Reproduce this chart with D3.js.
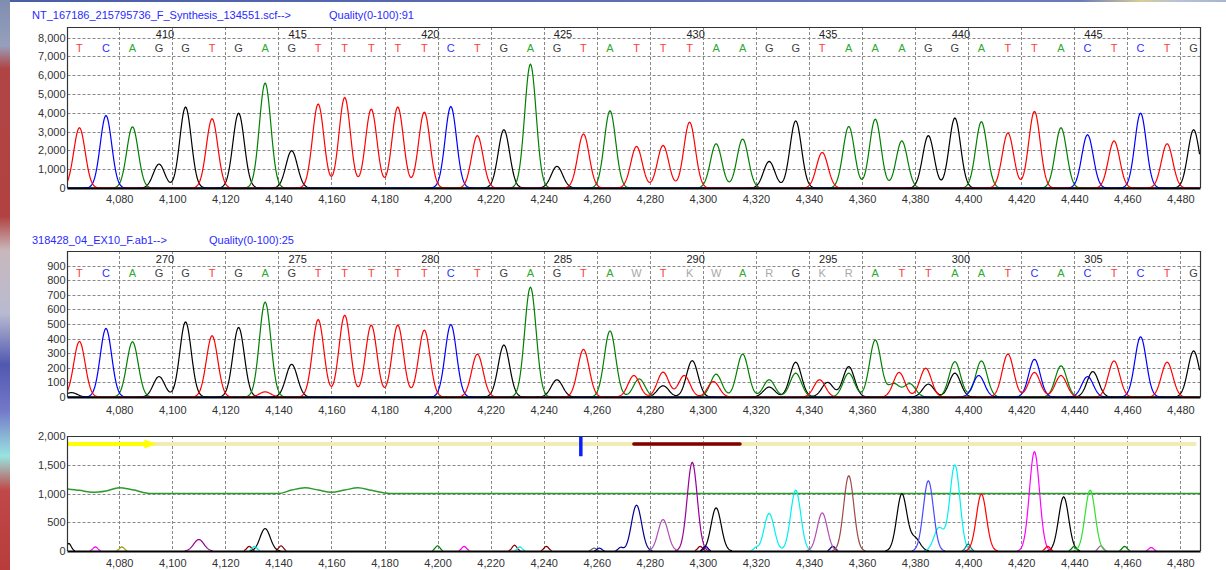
<!DOCTYPE html>
<html>
<head>
<meta charset="utf-8">
<script src="https://cdn.jsdelivr.net/npm/d3@7"></script>
<style>
  body { margin: 0; background: #fff; overflow: hidden; }
  text { font-family: "Liberation Sans", Arial, sans-serif; }
</style>
</head>
<body>
<svg id="chart" width="1226" height="570"></svg>
<script>
// ---- data ----
var xTickValues = [4080, 4100, 4120, 4140, 4160, 4180, 4200, 4220, 4240, 4260, 4280, 4300, 4320, 4340, 4360, 4380, 4400, 4420, 4440, 4460, 4480];

var basePositions = [4065, 4075, 4085, 4095, 4105, 4115, 4125, 4135, 4145, 4155, 4165, 4175, 4185, 4195, 4205,
  4215, 4225, 4235, 4245, 4255, 4265, 4275, 4285, 4295, 4305, 4315, 4325, 4335, 4345, 4355, 4365, 4375, 4385,
  4395, 4405, 4415, 4425, 4435, 4445, 4455, 4465, 4475, 4485];

// reference trace (top)
var refTitle = "NT_167186_215795736_F_Synthesis_134551.scf-->";
var refQuality = "Quality(0-100):91";
var refFirstIndex = 407;
var refSeq = "TCAGGTGAGTTTTTCTGAGTATTTAAGGTAAAGGATTACTCTG".split("");
var refHeights = [3200, 3850, 3250, 1270, 4300, 3680, 3980, 5580, 1980, 4460, 4810, 4190, 4300, 4030, 4330,
  2780, 3100, 6580, 1150, 2870, 4100, 2210, 2260, 3500, 2350, 2600, 1410, 3570, 1890, 3270, 3660, 2500, 2780,
  3720, 3520, 2920, 4070, 3200, 2830, 2500, 3980, 2350, 3100];
var refYTicks = [0, 1000, 2000, 3000, 4000, 5000, 6000, 7000, 8000];

// sample trace (middle), peaks per channel as [position, height]
var qryTitle = "318428_04_EX10_F.ab1-->";
var qryQuality = "Quality(0-100):25";
var qryFirstIndex = 267;
var qrySeq = "TCAGGTGAGTTTTTCTGAGTAWTKWARGKRATTAATCACTCTG".split("");
var qryT = [[4065, 380], [4115, 419], [4135, 35], [4155, 530], [4165, 560], [4175, 492], [4185, 492], [4195, 458],
  [4215, 294], [4255, 326], [4274, 147], [4285, 170], [4293, 147], [4304, 106], [4344, 118], [4374, 168],
  [4384, 197], [4415, 294], [4425, 168], [4435, 147], [4455, 247], [4475, 238]];
var qryC = [[4075, 469], [4205, 496], [4404, 147], [4425, 258], [4445, 140], [4465, 412]];
var qryA = [[4085, 378], [4135, 650], [4235, 752], [4265, 453], [4276, 124], [4305, 156], [4315, 294],
  [4325, 118], [4335, 163], [4355, 163], [4365, 390], [4372, 90], [4378, 90], [4395, 242], [4405, 247], [4435, 213]];
var qryG = [[4062, 30], [4095, 140], [4105, 514], [4125, 476], [4145, 224], [4225, 356], [4245, 118],
  [4285, 77], [4296, 249], [4325, 68], [4335, 238], [4347, 100], [4355, 208], [4385, 88], [4395, 163],
  [4447, 174], [4485, 315]];
var qryYTicks = [0, 100, 200, 300, 400, 500, 600, 700, 800, 900];

// difference panel (bottom)
var diffYTicks = [0, 500, 1000, 1500, 2000];
var diffPos = [4061, 4071, 4081, 4110, 4129, 4131, 4135, 4141, 4200, 4210, 4229, 4231, 4241, 4259, 4261, 4269,
  4275, 4285, 4296, 4299, 4301, 4305, 4320, 4325, 4335, 4345, 4349, 4355, 4375, 4380, 4385, 4389, 4395, 4400,
  4405, 4425, 4430, 4436, 4440, 4446, 4450, 4459, 4469];
var diffHeight = [130, 70, 70, 200, 80, 80, 390, 90, 90, 80, 100, 70, 80, 50, 50, 60,
  797, 547, 1541, 80, 80, 750, 50, 652, 1058, 663, 80, 1308, 989, 216, 1221, 400, 1495, 120,
  989, 1727, 80, 942, 80, 1058, 90, 80, 60];
var diffKind = ["black", "magenta", "olive", "purple", "darkred", "cyan", "black", "darkred", "green", "magenta",
  "darkred", "cyan", "darkred", "gray", "navy", "navy", "navy", "lilac", "purple", "darkred", "navy", "black",
  "cyan", "cyan", "cyan", "lilac", "navy", "brown", "black", "black", "blue", "cyan", "cyan", "teal",
  "red", "magenta", "red", "black", "green", "lime", "lilac", "green", "magenta"];
var qualityLine = [[4060.5, 1080], [4065, 1055], [4070, 1020], [4075, 1045], [4080, 1100], [4085, 1065],
  [4092, 1000], [4140, 1000], [4145, 1060], [4150, 1100], [4155, 1060], [4160, 1020], [4165, 1060],
  [4170, 1100], [4175, 1055], [4182, 1000], [4487.4, 1000]];
var alignBar = [4060.5, 4486, 1860];
var arrowRange = [4060.5, 4094];
var mismatchRange = [4274, 4314];
var cursorPos = 4254;

// ---- styles ----
var baseColor = { A: "#2ea82e", C: "#3030ff", G: "#404040", T: "#ff3a3a" };
var traceColor = { A: "#008000", C: "#0000ff", G: "#000000", T: "#ff0000" };
var diffColor = { black: "#000000", magenta: "#ff00ff", olive: "#a09a00", purple: "#990099", darkred: "#900000",
  cyan: "#00f0f0", green: "#008000", gray: "#606060", navy: "#000090", lilac: "#b050b0", brown: "#a04848",
  blue: "#4a4aff", teal: "#008080", red: "#ff0000", lime: "#30e030" };

var svg = d3.select("#chart");
var xDomain = [4060.5, 4487.4];
var plotLeft = 67.5, plotRight = 1200;
var x = d3.scaleLinear().domain(xDomain).range([plotLeft, plotRight]);
var fmt = d3.format(",");
var samples = d3.range(xDomain[0], xDomain[1], 0.25);

// window decoration: left strip + top strip
var defs = svg.append("defs");
var lg = defs.append("linearGradient").attr("id", "leftStrip").attr("x1", 0).attr("y1", 0).attr("x2", 0).attr("y2", 1);
[[0, "#7f8db0"], [0.08, "#96a0bc"], [0.12, "#b04444"], [0.38, "#b24242"], [0.44, "#c8b8bc"], [0.55, "#b8bad0"],
 [0.64, "#5058b0"], [0.72, "#7478c8"], [0.8, "#98e4e0"], [0.86, "#c04848"], [1, "#b83c3c"]].forEach(function (s) {
  lg.append("stop").attr("offset", s[0]).attr("stop-color", s[1]);
});
var tg = defs.append("linearGradient").attr("id", "topStrip");
[[0, "#4a5ea8"], [0.88, "#6a7cb8"], [0.93, "#d8cc98"], [0.96, "#b8c0d8"], [1, "#a8b4d0"]].forEach(function (s) {
  tg.append("stop").attr("offset", s[0]).attr("stop-color", s[1]);
});
svg.append("rect").attr("x", 0).attr("y", 0).attr("width", 10).attr("height", 570).attr("fill", "url(#leftStrip)");
svg.append("rect").attr("x", 10).attr("y", 0).attr("width", 1216).attr("height", 2).attr("fill", "url(#topStrip)");

function gauss(peaks, sigmaFn) {
  return samples.map(function (s) {
    var v = 0;
    peaks.forEach(function (p) {
      var sg = sigmaFn(p);
      var d = s - p[0];
      v += p[1] * Math.exp(-d * d / (2 * sg * sg));
    });
    return [s, v];
  });
}

// draws frame, grid, y labels, x axis; returns y scale and a clipped group
function makePanel(id, top, bottom, yMax, yTicks, xLabelY) {
  var y = d3.scaleLinear().domain([0, yMax]).range([bottom, top]);
  var g = svg.append("g");

  defs.append("clipPath").attr("id", "clip" + id)
    .append("rect").attr("x", plotLeft).attr("y", top).attr("width", plotRight - plotLeft).attr("height", bottom - top + 1);

  // grid
  g.selectAll(".hgrid").data(yTicks.filter(function (t) { return t > 0 && y(t) > top + 2; }))
    .enter().append("line")
    .attr("x1", plotLeft).attr("x2", plotRight)
    .attr("y1", function (d) { return Math.round(y(d)) + 0.5; })
    .attr("y2", function (d) { return Math.round(y(d)) + 0.5; })
    .attr("stroke", "#888").attr("stroke-dasharray", "3,2");
  g.selectAll(".vgrid").data(xTickValues).enter().append("line")
    .attr("x1", function (d) { return Math.round(x(d)) + 0.5; })
    .attr("x2", function (d) { return Math.round(x(d)) + 0.5; })
    .attr("y1", top).attr("y2", bottom)
    .attr("stroke", "#888").attr("stroke-dasharray", "3,2");

  // y labels
  var yAxis = d3.axisLeft(y).tickValues(yTicks).tickFormat(fmt).tickSize(0).tickPadding(2);
  var ya = g.append("g").attr("transform", "translate(" + plotLeft + ",0)").call(yAxis);
  ya.select(".domain").remove();
  ya.selectAll("text").attr("font-size", 11).attr("fill", "#333")
    .attr("font-family", "'Liberation Sans', Arial, sans-serif");

  // x labels
  var xAxis = d3.axisBottom(x).tickValues(xTickValues).tickFormat(fmt).tickSize(0).tickPadding(0);
  var xa = g.append("g").attr("transform", "translate(0," + (xLabelY - 9) + ")").call(xAxis);
  xa.select(".domain").remove();
  xa.selectAll("text").attr("font-size", 11).attr("fill", "#333")
    .attr("font-family", "'Liberation Sans', Arial, sans-serif");

  var plot = svg.append("g").attr("clip-path", "url(#clip" + id + ")");

  return { y: y, plot: plot, top: top, bottom: bottom };
}

function drawFrame(p) {
  svg.append("path")
    .attr("d", "M" + plotLeft + "," + p.bottom + "V" + (p.top + 0.5) + "H" + (plotRight + 0.5) + "V" + p.bottom)
    .attr("fill", "none").attr("stroke", "#333").attr("stroke-width", 1.2);
  svg.append("line").attr("x1", plotLeft).attr("x2", plotRight + 0.5)
    .attr("y1", p.bottom + 0.5).attr("y2", p.bottom + 0.5)
    .attr("stroke", "#000").attr("stroke-width", 2.2);
}

function drawBases(p, seq, firstIndex, numY, letterY) {
  var g = svg.append("g");
  g.selectAll(".base").data(seq).enter().append("text")
    .attr("x", function (d, i) { return x(basePositions[i]); })
    .attr("y", letterY)
    .attr("text-anchor", "middle")
    .attr("font-size", 11)
    .attr("fill", function (d) { return baseColor[d] || "#a8a8a8"; })
    .text(function (d) { return d; });
  var idx = seq.map(function (d, i) { return i; }).filter(function (i) { return (firstIndex + i) % 5 === 0; });
  g.selectAll(".num").data(idx).enter().append("text")
    .attr("x", function (i) { return x(basePositions[i]) + 6; })
    .attr("y", numY)
    .attr("text-anchor", "middle")
    .attr("font-size", 11)
    .attr("fill", "#222")
    .text(function (i) { return firstIndex + i; });
}

function header(title, quality, qx, yy) {
  svg.append("text").attr("x", 32).attr("y", yy).attr("font-size", 11).attr("fill", "#2a2aff").text(title);
  svg.append("text").attr("x", qx).attr("y", yy).attr("font-size", 11).attr("fill", "#2a2aff").text(quality);
}

function drawChannel(p, peaks, color, sigma) {
  var line = d3.line().x(function (d) { return x(d[0]); }).y(function (d) { return p.y(d[1]); });
  p.plot.append("path").datum(gauss(peaks, function () { return sigma; }))
    .attr("d", line).attr("fill", "none").attr("stroke", color).attr("stroke-width", 1.2);
}

// ---- top panel ----
header(refTitle, refQuality, 329, 19);
var p1 = makePanel(1, 27, 188, 8560, refYTicks, 204);
["G", "A", "C", "T"].forEach(function (c) {
  var pk = [];
  refSeq.forEach(function (b, i) { if (b === c) pk.push([basePositions[i], refHeights[i]]); });
  drawChannel(p1, pk, traceColor[c], 2.15);
});
drawFrame(p1);
drawBases(p1, refSeq, refFirstIndex, 38, 52);

// ---- middle panel ----
header(qryTitle, qryQuality, 209, 244);
var p2 = makePanel(2, 251, 397, 1000, qryYTicks, 415);
drawChannel(p2, qryG, traceColor.G, 2.15);
drawChannel(p2, qryA, traceColor.A, 2.15);
drawChannel(p2, qryC, traceColor.C, 2.15);
drawChannel(p2, qryT, traceColor.T, 2.15);
drawFrame(p2);
drawBases(p2, qrySeq, qryFirstIndex, 263, 277);

// ---- bottom panel ----
var p3 = makePanel(3, 436, 551, 2000, diffYTicks, 568);

p3.plot.append("path").datum(qualityLine)
  .attr("d", d3.line().curve(d3.curveMonotoneX).x(function (d) { return x(d[0]); }).y(function (d) { return p3.y(d[1]); }))
  .attr("fill", "none").attr("stroke", "#2c9a2c").attr("stroke-width", 1.5);

var kinds = Array.from(new Set(diffKind));
kinds.forEach(function (k) {
  var pk = [];
  diffPos.forEach(function (pos, i) { if (diffKind[i] === k) pk.push([pos, diffHeight[i]]); });
  var pts = gauss(pk, function (p) { return p[1] < 150 ? 0.9 : 1.9; });
  var line = d3.line().defined(function (d) { return d[1] > 4; })
    .x(function (d) { return x(d[0]); }).y(function (d) { return p3.y(d[1]); });
  p3.plot.append("path").datum(pts).attr("d", line)
    .attr("fill", "none").attr("stroke", diffColor[k]).attr("stroke-width", 1.2);
});

// alignment bar, arrow, mismatch, cursor
p3.plot.append("line")
  .attr("x1", x(alignBar[0])).attr("x2", x(alignBar[1]))
  .attr("y1", p3.y(alignBar[2])).attr("y2", p3.y(alignBar[2]))
  .attr("stroke", "#f0ecb4").attr("stroke-width", 4);
p3.plot.append("line")
  .attr("x1", x(arrowRange[0])).attr("x2", x(arrowRange[1]) - 6)
  .attr("y1", p3.y(alignBar[2])).attr("y2", p3.y(alignBar[2]))
  .attr("stroke", "#ffff00").attr("stroke-width", 4);
var ax = x(arrowRange[1]), ay = p3.y(alignBar[2]);
p3.plot.append("path")
  .attr("d", "M" + (ax - 12) + "," + (ay - 4.5) + "L" + ax + "," + ay + "L" + (ax - 12) + "," + (ay + 4.5) + "Z")
  .attr("fill", "#ffff00");
p3.plot.append("line")
  .attr("x1", x(mismatchRange[0])).attr("x2", x(mismatchRange[1]))
  .attr("y1", p3.y(alignBar[2])).attr("y2", p3.y(alignBar[2]))
  .attr("stroke", "#800000").attr("stroke-width", 3.5).attr("stroke-linecap", "round");
p3.plot.append("line")
  .attr("x1", x(cursorPos)).attr("x2", x(cursorPos))
  .attr("y1", p3.y(1990)).attr("y2", p3.y(1650))
  .attr("stroke", "#0a20ff").attr("stroke-width", 3.5);

drawFrame(p3);
</script>
</body>
</html>
